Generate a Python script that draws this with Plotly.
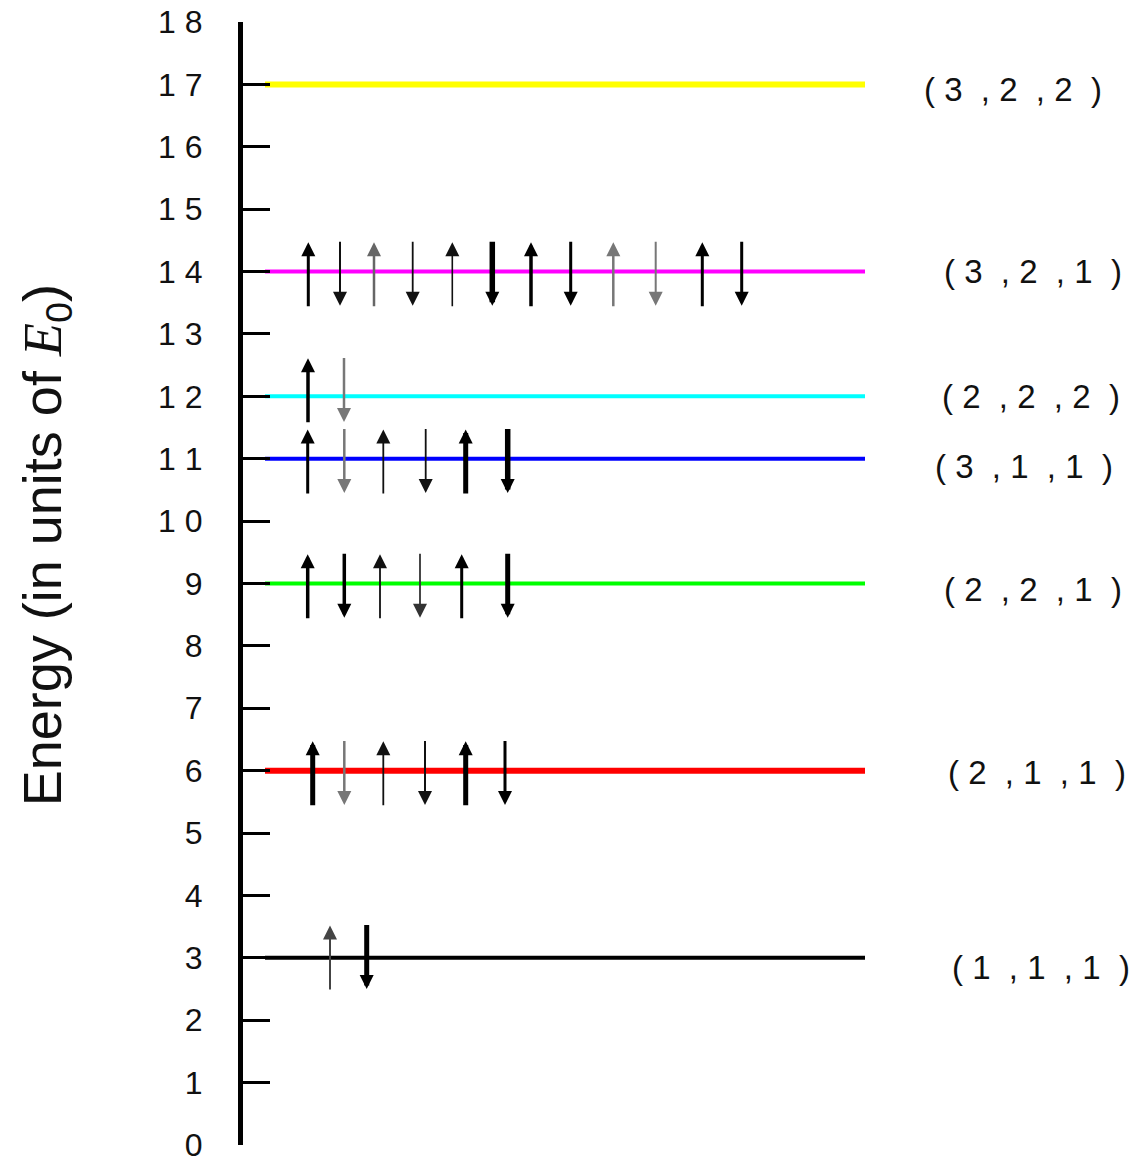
import plotly.graph_objects as go

# ---- data ----
level_energy = [17, 14, 12, 11, 9, 6, 3]
level_states = [(3, 2, 2), (3, 2, 1), (2, 2, 2), (3, 1, 1), (2, 2, 1), (2, 1, 1), (1, 1, 1)]
# electron x-positions along each level (horizontal units), spins alternate up/down
electron_x = [
    [],
    [0.683, 1.0, 1.34, 1.727, 2.123, 2.523, 2.91, 3.307, 3.733, 4.157, 4.623, 5.017],
    [0.68, 1.04],
    [0.677, 1.043, 1.433, 1.857, 2.257, 2.677],
    [0.677, 1.043, 1.40, 1.80, 2.217, 2.677],
    [0.727, 1.043, 1.433, 1.85, 2.257, 2.65],
    [0.90, 1.267],
]
electron_spin = [
    [],
    [1, -1, 1, -1, 1, -1, 1, -1, 1, -1, 1, -1],
    [1, -1],
    [1, -1, 1, -1, 1, -1],
    [1, -1, 1, -1, 1, -1],
    [1, -1, 1, -1, 1, -1],
    [1, -1],
]
y_ticks = list(range(0, 19))
y_ticktext = [" ".join(str(v)) for v in y_ticks]

# ---- style ----
level_colors = ['#FFFF00', '#FF00FF', '#00FFFF', '#0000FF', '#00FF00', '#FF0000', '#000000']
level_widths = [6, 4, 4, 4, 4, 6, 4]
level_x0, level_x1 = 0.25, 6.25
arrow_widths = [
    [],
    [3, 2, 2.5, 1.8, 1.6, 5.5, 3.5, 3, 2.5, 2, 3, 3],
    [3.5, 2.5],
    [3, 2.5, 1.8, 1.8, 5, 5.5],
    [3.5, 3.5, 1.8, 1.8, 3, 5],
    [5, 2.5, 1.8, 2, 5, 3],
    [2, 5],
]
arrow_colors = [
    [],
    ['#000', '#111', '#666', '#111', '#111', '#000', '#000', '#000', '#777', '#777', '#000', '#000'],
    ['#000', '#777'],
    ['#000', '#777', '#111', '#111', '#000', '#000'],
    ['#000', '#000', '#111', '#333', '#000', '#000'],
    ['#000', '#777', '#111', '#111', '#000', '#000'],
    ['#444', '#000'],
]
arrow_shift = [0, 0, 0.14, 0, 0, 0, 0.05]
up_tail, up_tip = -0.58, 0.47
dn_tail, dn_tip = 0.50, -0.55
label_x = [6.82, 7.02, 7.0, 6.93, 7.02, 7.06, 7.1]
label_dy = [-0.08, 0.0, 0.0, -0.13, -0.1, -0.03, -0.15]

FONT = "Liberation Sans, Arial, Helvetica, sans-serif"
NB = "\u00a0"

fig = go.Figure()

for E, col, w in zip(level_energy, level_colors, level_widths):
    fig.add_trace(go.Scatter(x=[level_x0, level_x1], y=[E, E], mode="lines",
                             line=dict(color=col, width=w), hoverinfo="skip",
                             showlegend=False))

annotations = []
for i, E in enumerate(level_energy):
    for xv, s, aw, ac in zip(electron_x[i], electron_spin[i], arrow_widths[i], arrow_colors[i]):
        base = E + arrow_shift[i]
        if s > 0:
            tail, tip = base + up_tail, base + up_tip
        else:
            tail, tip = base + dn_tail, base + dn_tip
        annotations.append(dict(
            x=xv, y=tip, ax=xv, ay=tail, xref="x", yref="y", axref="x", ayref="y",
            text="", showarrow=True, arrowhead=2, arrowwidth=aw,
            arrowsize=max(0.3, 2.8 / aw), arrowcolor=ac, standoff=0, startstandoff=0))

for st, E, lx, dy in zip(level_states, level_energy, label_x, label_dy):
    a, b, c = st
    txt = f"( {a}{NB}{NB}, {b}{NB}{NB}, {c}{NB}{NB})"
    annotations.append(dict(x=lx, y=E + dy, xref="x", yref="y", text=txt,
                            showarrow=False, xanchor="left", yanchor="middle",
                            font=dict(family=FONT, size=33, color="#111")))

annotations.append(dict(
    x=-0.2184, y=0.534, xref="paper", yref="paper", textangle=-90, showarrow=False,
    xanchor="center", yanchor="middle",
    text="Energy (in units of <span style=\"font-family:'Liberation Serif', 'Times New Roman', serif\"><i>E</i></span><sub>0</sub>)",
    font=dict(family=FONT, size=54, color="#111")))

fig.update_layout(
    width=1145, height=1157,
    margin=dict(l=243, r=0, t=22, b=12, autoexpand=False),
    paper_bgcolor="white", plot_bgcolor="white",
    annotations=annotations,
    xaxis=dict(range=[0.03, 9.05], visible=False, fixedrange=True),
    yaxis=dict(range=[0, 18], tickvals=y_ticks, ticktext=y_ticktext,
               showline=True, linewidth=5, linecolor="black",
               ticks="inside", ticklen=27, tickwidth=3, tickcolor="black",
               showgrid=False, zeroline=False, ticklabelstandoff=29,
               automargin=False, ticklabeloverflow="allow",
               tickfont=dict(family=FONT, size=32, color="#111")),
)

fig.write_html("out.html", config={"displayModeBar": False},
               post_script="document.body.style.margin='0';document.body.style.padding='0';")
